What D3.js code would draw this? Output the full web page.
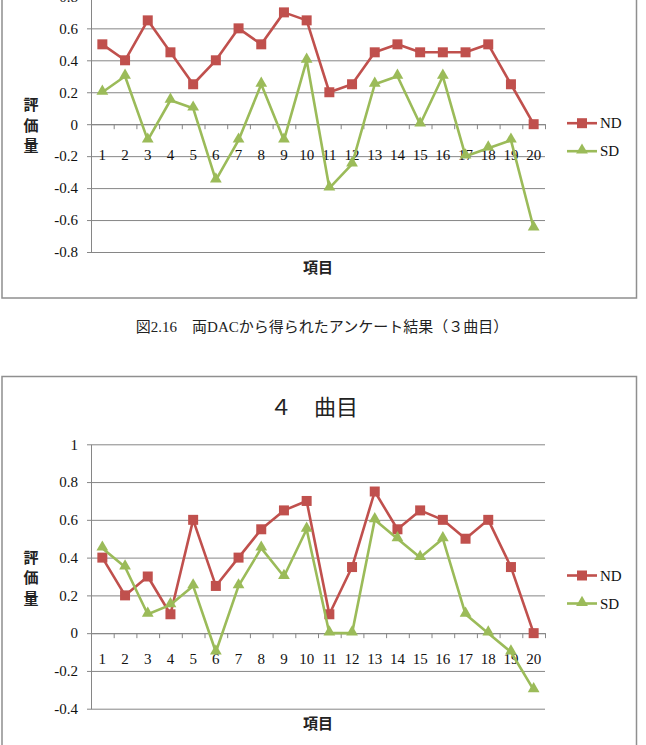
<!DOCTYPE html>
<html>
<head>
<meta charset="utf-8">
<script src="https://cdn.jsdelivr.net/npm/d3@7"></script>
<style>
  body { margin: 0; background: #fff; }
  svg { display: block; }
</style>
</head>
<body>
<div id="container"></div>
<script>
// categories (項目)
const items = ['1', '2', '3', '4', '5', '6', '7', '8', '9', '10',
  '11', '12', '13', '14', '15', '16', '17', '18', '19', '20'];
const seriesNames = ['ND', 'SD'];

// 3曲目
const nd3 = [0.5, 0.4, 0.65, 0.45, 0.25, 0.4, 0.6, 0.5, 0.7, 0.65,
  0.2, 0.25, 0.45, 0.5, 0.45, 0.45, 0.45, 0.5, 0.25, 0];
const sd3 = [0.2, 0.3, -0.1, 0.15, 0.1, -0.35, -0.1, 0.25, -0.1, 0.4,
  -0.4, -0.25, 0.25, 0.3, 0, 0.3, -0.2, -0.15, -0.1, -0.65];
const yTicks3 = [-0.8, -0.6, -0.4, -0.2, 0, 0.2, 0.4, 0.6, 0.8];

// 4曲目
const nd4 = [0.4, 0.2, 0.3, 0.1, 0.6, 0.25, 0.4, 0.55, 0.65, 0.7,
  0.1, 0.35, 0.75, 0.55, 0.65, 0.6, 0.5, 0.6, 0.35, 0];
const sd4 = [0.45, 0.35, 0.1, 0.15, 0.25, -0.1, 0.25, 0.45, 0.3, 0.55,
  0, 0, 0.6, 0.5, 0.4, 0.5, 0.1, 0, -0.1, -0.3];
const yTicks4 = [-0.4, -0.2, 0, 0.2, 0.4, 0.6, 0.8, 1];

const caption3 = '図2.16　両DACから得られたアンケート結果（３曲目）';
const title4 = '４　曲目';
const yTitle = '評価量';
const xTitle = '項目';

const colours = { ND: '#C0504D', SD: '#9BBB59' };
const numFont = "'Liberation Serif', 'DejaVu Serif', serif";
const jpFont = "'Noto Sans CJK JP', sans-serif";

const w = 646;
const h = 745;

const svg = d3.select('#container')
  .append('svg')
  .attr('width', w)
  .attr('height', h);

function drawChart(opt) {
  const g = svg.append('g');

  // chart frame
  g.append('rect')
    .attr('x', opt.frame.x0)
    .attr('y', opt.frame.y0)
    .attr('width', opt.frame.x1 - opt.frame.x0)
    .attr('height', opt.frame.y1 - opt.frame.y0)
    .attr('fill', '#fff')
    .attr('stroke', '#8f8f8f')
    .attr('stroke-width', 1.5);

  const xScale = d3.scaleBand()
    .domain(items)
    .range([opt.left, opt.right]);

  const yScale = d3.scaleLinear()
    .domain(d3.extent(opt.ticks))
    .range([opt.bottom, opt.top]);

  // y axis + gridlines
  const yAxis = d3.axisLeft(yScale)
    .tickValues(opt.ticks)
    .tickFormat(d => String(+d.toFixed(1)))
    .tickSizeInner(-(opt.right - opt.left))
    .tickSizeOuter(0)
    .tickPadding(13);

  const gy = g.append('g')
    .attr('transform', `translate(${opt.left}, 0)`)
    .call(yAxis);

  gy.select('.domain').attr('stroke', '#868686');
  gy.selectAll('.tick line')
    .attr('x1', -4)
    .attr('stroke', '#868686');
  gy.selectAll('.tick text')
    .style('font-family', numFont)
    .style('font-size', '15px')
    .attr('fill', '#111');

  // x axis along zero, tick marks at band edges
  const edge = d3.scaleLinear().domain([0, items.length]).range([opt.left, opt.right]);
  const xTickAxis = d3.axisBottom(edge)
    .ticks(items.length)
    .tickFormat('')
    .tickSizeInner(5)
    .tickSizeOuter(0);
  const gx = g.append('g')
    .attr('transform', `translate(0, ${yScale(0)})`)
    .call(xTickAxis);
  gx.selectAll('line, path').attr('stroke', '#868686');

  const xAxis = d3.axisBottom(xScale)
    .tickSize(0)
    .tickPadding(opt.labelGap);
  const gxl = g.append('g')
    .attr('transform', `translate(0, ${yScale(0)})`)
    .call(xAxis);
  gxl.select('.domain').remove();
  gxl.selectAll('.tick text')
    .style('font-family', numFont)
    .style('font-size', '15px')
    .attr('fill', '#111');

  // series
  const line = d3.line()
    .x((d, i) => xScale(items[i]) + xScale.bandwidth() / 2)
    .y(d => yScale(d));

  const series = [
    { name: 'ND', values: opt.nd },
    { name: 'SD', values: opt.sd }
  ];

  const sym = {
    ND: d3.symbol(d3.symbolSquare, 100),
    SD: d3.symbol(d3.symbolTriangle, 60)
  };

  series.forEach(s => {
    g.append('path')
      .datum(s.values)
      .attr('d', line)
      .attr('fill', 'none')
      .attr('stroke', colours[s.name])
      .attr('stroke-width', 2.6)
      .attr('stroke-linejoin', 'round');

    g.selectAll(`.m-${s.name}`)
      .data(s.values)
      .enter()
      .append('path')
      .attr('class', `m-${s.name}`)
      .attr('transform', (d, i) => `translate(${xScale(items[i]) + xScale.bandwidth() / 2}, ${yScale(d) + (s.name === 'SD' ? -1 : 0)})`)
      .attr('d', sym[s.name])
      .attr('fill', colours[s.name]);
  });

  // axis titles
  const mid = (opt.top + opt.bottom) / 2;
  g.append('text')
    .selectAll('tspan')
    .data(yTitle.split(''))
    .enter()
    .append('tspan')
    .attr('x', 31)
    .attr('y', (d, i) => mid + (i - 1) * 20.5)
    .attr('dominant-baseline', 'central')
    .attr('text-anchor', 'middle')
    .style('font-family', jpFont)
    .style('font-weight', 700)
    .style('font-size', '15px')
    .attr('fill', '#222')
    .text(d => d);

  g.append('text')
    .attr('x', (opt.left + opt.right) / 2)
    .attr('y', opt.bottom + 14)
    .attr('dominant-baseline', 'central')
    .attr('text-anchor', 'middle')
    .style('font-family', jpFont)
    .style('font-weight', 700)
    .style('font-size', '15px')
    .attr('fill', '#222')
    .text(xTitle);

  // legend
  const legend = g.selectAll('.legend')
    .data(seriesNames)
    .enter()
    .append('g')
    .attr('class', 'legend')
    .attr('transform', (d, i) => `translate(582, ${mid - 1 + i * 28})`);

  legend.append('line')
    .attr('x1', -15).attr('x2', 15)
    .attr('stroke', d => colours[d])
    .attr('stroke-width', 2.6);
  legend.append('path')
    .attr('d', d => sym[d]())
    .attr('transform', d => d === 'SD' ? 'translate(0,-1)' : null)
    .attr('fill', d => colours[d]);
  legend.append('text')
    .attr('x', 18)
    .attr('dominant-baseline', 'central')
    .style('font-family', numFont)
    .style('font-size', '15px')
    .attr('fill', '#111')
    .text(d => d);

  if (opt.title) {
    g.append('text')
      .attr('x', 314)
      .attr('y', opt.frame.y0 + 28)
      .attr('dominant-baseline', 'central')
      .attr('text-anchor', 'middle')
      .style('font-family', jpFont)
      .style('font-size', '22px')
      .attr('fill', '#222')
      .text(opt.title);
  }
}

// 3曲目 (top, cut off by the page edge)
drawChart({
  frame: { x0: 2, y0: -60, x1: 636.5, y1: 298 },
  left: 91, right: 545, top: -3.6, bottom: 252,
  ticks: yTicks3, nd: nd3, sd: sd3, labelGap: 25
});

svg.append('text')
  .attr('x', 322)
  .attr('y', 327)
  .attr('dominant-baseline', 'central')
  .attr('text-anchor', 'middle')
  .style('font-family', `'Liberation Serif', ${jpFont}`)
  .style('font-size', '15px')
  .attr('fill', '#222')
  .text(caption3);

// 4曲目
drawChart({
  frame: { x0: 2, y0: 376.5, x1: 636.5, y1: 800 },
  left: 91, right: 545, top: 444.3, bottom: 708.7,
  ticks: yTicks4, nd: nd4, sd: sd4, labelGap: 20,
  title: title4
});
</script>
</body>
</html>
